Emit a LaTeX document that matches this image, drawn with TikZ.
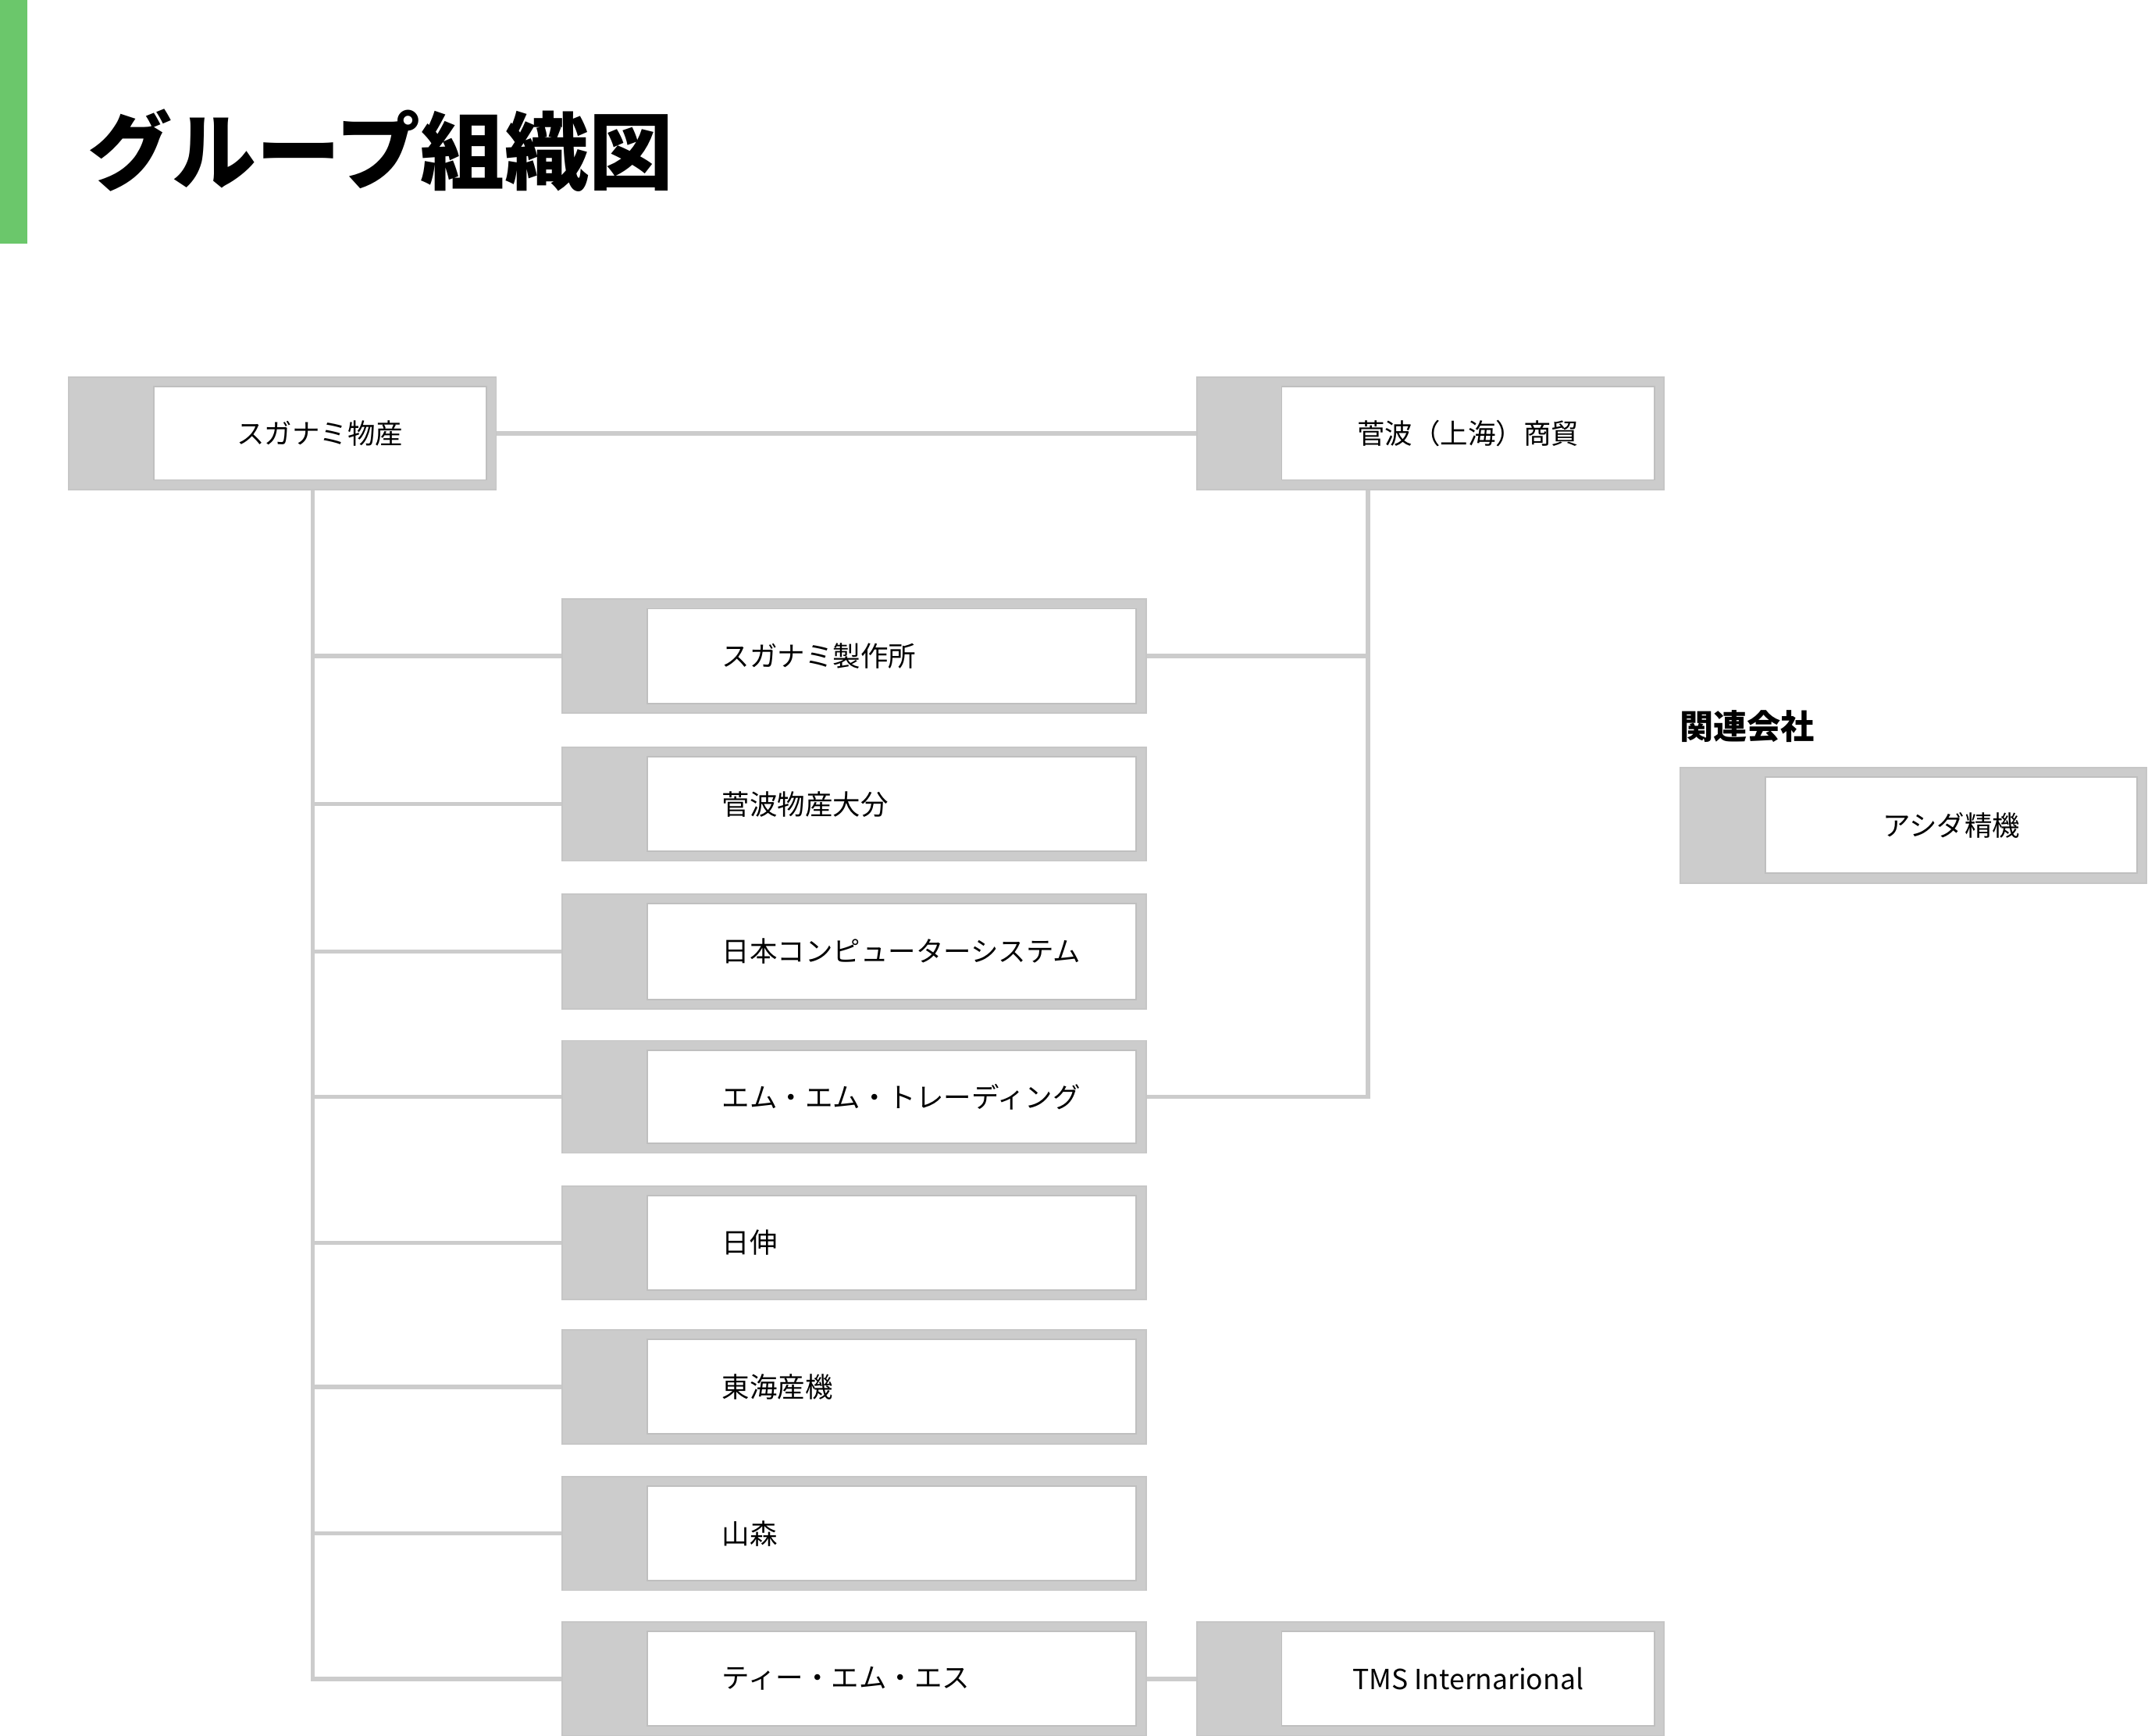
\documentclass[tikz,border=0pt]{standalone}
\usepackage{fontspec}
\setmainfont{Noto Sans CJK JP}
\usetikzlibrary{positioning}
\tikzset{
  outerbox/.style={fill=gray!40, draw=gray!45, line width=0.6pt, inner sep=0pt},
  innerbox/.style={fill=white, draw=gray!50, line width=0.6pt, inner sep=0pt},
  name text/.style={font=\fontsize{11.5}{13}\selectfont, inner sep=0pt},
  link/.style={draw=gray!40, line width=1.8pt}
}
% box macro: name, x1, y1, x2, y2
\newcommand\cbox[5]{%
  \node[outerbox, minimum width={(#4-#2)*0.02cm}, minimum height={(#5-#3)*0.02cm}] (#1) at ({(#2+#4)/2},{(#3+#5)/2}) {};
  \node[innerbox, minimum width={(#4-#2-69)*0.02cm}, minimum height={(#5-#3-14)*0.02cm}] (#1-in) at ({(#2+#4)/2+27.5},{(#3+#5)/2}) {};
}
\begin{document}
\begin{tikzpicture}[x=0.02cm, y=-0.02cm]
\useasboundingbox (0,0) rectangle (1567,1266);

% Title
\fill[green!45!gray!80] (0,0) rectangle (20,178);
\node[anchor=west, font=\fontsize{35}{40}\selectfont\bfseries, inner sep=0pt] (title) at (64,110) {グループ組織図};

% Top companies
\cbox{sg}{50}{275}{362}{357}
\node[name text] (sg-t) at (sg-in) {スガナミ物産};
\cbox{sh}{873}{275}{1214}{357}
\node[name text] (sh-t) at (sh-in) {菅波（上海）商貿};

% Column of companies
\foreach \n/\ya/\yb/\txt in {1/437/520/スガナミ製作所,
                             2/545/628/菅波物産大分,
                             3/652/736/日本コンピューターシステム,
                             4/759/841/エム・エム・トレーディング,
                             5/865/948/日伸,
                             6/970/1053/東海産機,
                             7/1077/1160/山森,
                             8/1183/1266/ティー・エム・エス}
{
  \cbox{c\n}{410}{\ya}{836}{\yb}
  \node[name text, anchor=west] (c\n-t) at ([xshift=1.1cm]c\n-in.west) {\txt};
}

\cbox{tms}{873}{1183}{1214}{1266}
\node[name text] (tms-t) at (tms-in) {TMS Internarional};

% Affiliate
\node[anchor=west, font=\fontsize{14}{16}\selectfont\bfseries, inner sep=0pt] (aff) at (1225,530) {関連会社};
\cbox{as}{1226}{560}{1566}{644}
\node[name text] (as-t) at (as-in) {アシダ精機};

% Connectors
\coordinate (spine) at (228,0);
\coordinate (rspine) at (998,0);
\draw[link] (sg.east) -- (sh.west);
\draw[link] (sg.south -| spine) -- (spine |- c8.west) -- (c8.west);
\foreach \n in {1,...,7}
  \draw[link] (spine |- c\n.west) -- (c\n.west);
\draw[link] (sh.south -| rspine) -- (rspine |- c4.east) -- (c4.east);
\draw[link] (rspine |- c1.east) -- (c1.east);
\draw[link] (c8.east) -- (tms.west);
\end{tikzpicture}
\end{document}
